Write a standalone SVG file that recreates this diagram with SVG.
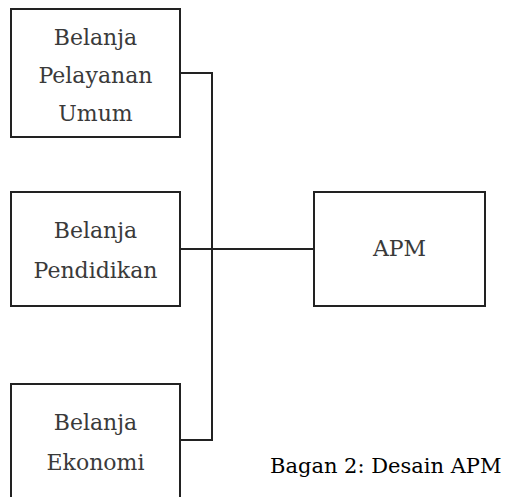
<svg xmlns="http://www.w3.org/2000/svg" width="511" height="497" viewBox="0 0 511 497">
<style>
.box{fill:#fff;stroke:#222;stroke-width:2}
.lbl{font-family:'DejaVu Serif',serif;font-size:22px;fill:#3a3a3a;text-anchor:middle}
.cap{font-family:'DejaVu Serif',serif;font-size:21px;fill:#000}
.con{fill:none;stroke:#222;stroke-width:2}
</style>
<rect width="511" height="497" fill="#fff"/>
<g id="connectors">
<polyline class="con" points="180,73 212,73 212,440 180,440"/>
<line class="con" x1="180" y1="249" x2="314" y2="249"/>
</g>
<g id="node-pelayanan">
<rect class="box" x="11" y="9" width="169" height="128"/>
<text class="lbl" x="95.5" y="45">Belanja</text>
<text class="lbl" x="95.5" y="83">Pelayanan</text>
<text class="lbl" x="95.5" y="121">Umum</text>
</g>
<g id="node-pendidikan">
<rect class="box" x="11" y="192" width="169" height="114"/>
<text class="lbl" x="95.5" y="238">Belanja</text>
<text class="lbl" x="95.5" y="278">Pendidikan</text>
</g>
<g id="node-apm">
<rect class="box" x="314" y="192" width="171" height="114"/>
<text class="lbl" x="399.5" y="256">APM</text>
</g>
<g id="node-ekonomi">
<rect class="box" x="11" y="384" width="169" height="120"/>
<text class="lbl" x="95.5" y="430">Belanja</text>
<text class="lbl" x="95.5" y="470">Ekonomi</text>
</g>
<text class="cap" x="270" y="473">Bagan 2: Desain APM</text>
</svg>
